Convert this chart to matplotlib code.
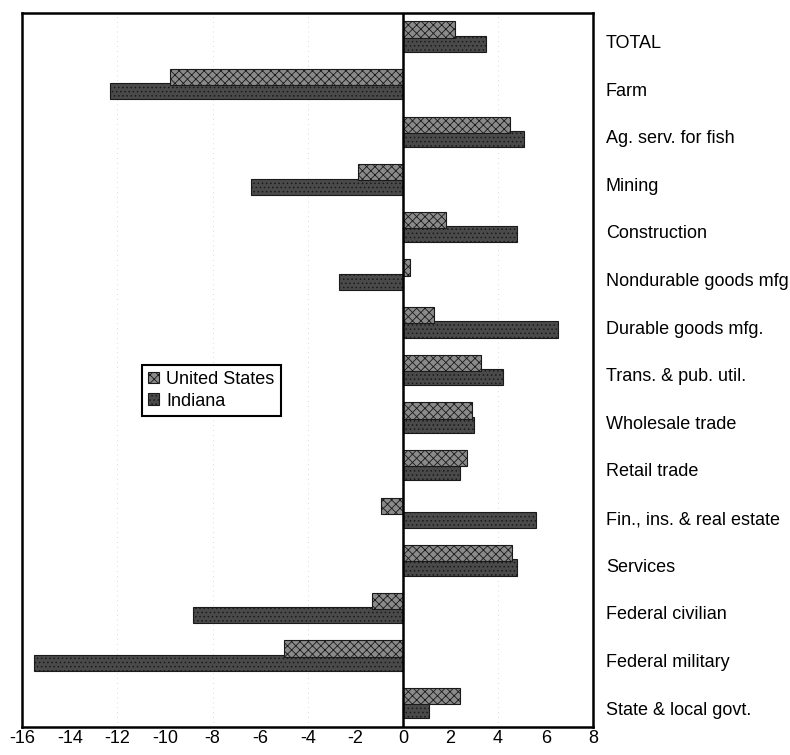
import matplotlib.pyplot as plt
import numpy as np

categories = ["TOTAL", "Farm", "Ag. serv. for fish", "Mining", "Construction",
              "Nondurable goods mfg", "Durable goods mfg.", "Trans. & pub. util.",
              "Wholesale trade", "Retail trade", "Fin., ins. & real estate",
              "Services", "Federal civilian", "Federal military", "State & local govt."]
united_states = [2.2, -9.8, 4.5, -1.9, 1.8, 0.3, 1.3, 3.3, 2.9, 2.7, -0.9, 4.6, -1.3, -5.0, 2.4]
indiana = [3.5, -12.3, 5.1, -6.4, 4.8, -2.7, 6.5, 4.2, 3.0, 2.4, 5.6, 4.8, -8.8, -15.5, 1.1]
xticks = [-16, -14, -12, -10, -8, -6, -4, -2, 0, 2, 4, 6, 8]

plt.rcParams['font.family'] = ['Liberation Sans', 'DejaVu Sans']
plt.rcParams['hatch.color'] = '#d0d0d0'
plt.rcParams['hatch.linewidth'] = 0.6

fig = plt.figure(figsize=(7.9, 7.55), dpi=100)
ax = fig.add_axes([0.028, 0.037, 0.723, 0.946])

y = np.arange(len(categories))
ax.barh(y + 0.15, indiana, height=0.34, color='#4a4a4a', edgecolor='#1a1a1a',
        linewidth=0.8, hatch='....', label='Indiana', zorder=2)
ax.barh(y - 0.15, united_states, height=0.34, color='#8a8a8a', edgecolor='#1a1a1a',
        linewidth=0.8, hatch='xxxx', label='United States', zorder=3)

ax.axvline(0, color='black', linewidth=1.8, zorder=4)
for x in [-12, -8, -4, 4]:
    ax.axvline(x, color='#bbbbbb', linewidth=0.5, linestyle=(0, (1, 6)), zorder=1)

ax.set_xlim(-16, 8)
ax.set_ylim(14.5, -0.5)
ax.set_xticks(xticks)
ax.set_xticklabels([str(t) for t in xticks], fontsize=13)
ax.tick_params(axis='x', length=0, pad=2)

ax.yaxis.tick_right()
ax.set_yticks(y + 0.1)
ax.set_yticklabels(categories, fontsize=13)
ax.tick_params(axis='y', length=0, pad=9)

for s in ax.spines.values():
    s.set_linewidth(1.8)

handles, labels = ax.get_legend_handles_labels()
leg = ax.legend(handles[::-1], labels[::-1], loc='upper left',
                bbox_to_anchor=(0.194, 0.52), fontsize=13, fancybox=False,
                framealpha=1, edgecolor='black', handlelength=0.6, handleheight=0.6,
                handletextpad=0.4, borderpad=0.35, labelspacing=0.25)
leg.get_frame().set_linewidth(1.5)

plt.savefig('out.png', dpi=100)
